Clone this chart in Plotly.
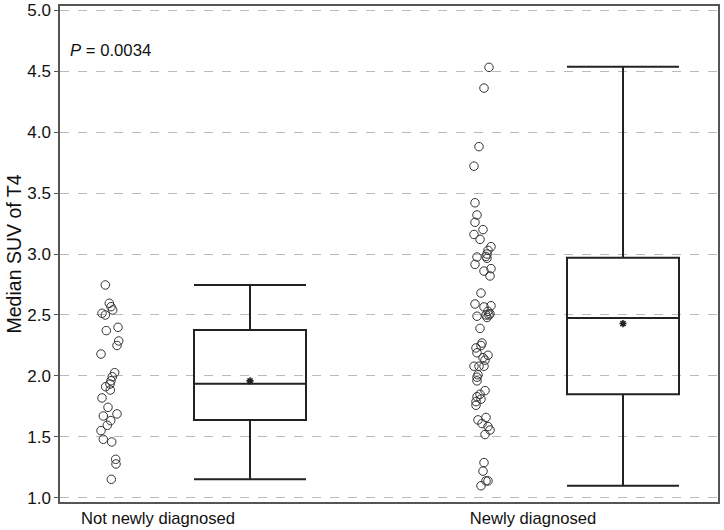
import plotly.graph_objects as go

# ---- data ----
categories = ["Not newly diagnosed", "Newly diagnosed"]

not_new_values = [2.746, 2.596, 2.568, 2.541, 2.514, 2.50, 2.399, 2.372, 2.287, 2.25,
                  2.18, 2.027, 1.994, 1.961, 1.934, 1.912, 1.885, 1.82, 1.743, 1.689,
                  1.672, 1.634, 1.596, 1.552, 1.481, 1.459, 1.317, 1.279, 1.153]
not_new_x = [0.453, 0.493, 0.51, 0.527, 0.42, 0.453, 0.58, 0.463, 0.587, 0.57,
             0.41, 0.547, 0.523, 0.51, 0.50, 0.457, 0.503, 0.42, 0.48, 0.57,
             0.433, 0.507, 0.473, 0.41, 0.433, 0.517, 0.557, 0.56, 0.513]

new_values = [4.53, 4.36, 3.88, 3.72, 3.42, 3.32, 3.26, 3.20, 3.16, 3.12,
              3.06, 3.03, 3.00, 2.98, 2.965, 2.975, 2.915, 2.88, 2.86, 2.82,
              2.68, 2.59, 2.576, 2.566, 2.53, 2.51, 2.50, 2.50, 2.49, 2.48,
              2.39, 2.27, 2.25, 2.23, 2.19, 2.17, 2.15, 2.13, 2.08, 2.08,
              2.08, 2.01, 1.99, 1.96, 1.88, 1.85, 1.83, 1.81, 1.79, 1.76,
              1.66, 1.64, 1.61, 1.585, 1.557, 1.52, 1.29, 1.22, 1.14, 1.14, 1.10]
new_x = [4.29, 4.24, 4.19, 4.14, 4.15, 4.17, 4.15, 4.23, 4.14, 4.20,
         4.31, 4.28, 4.27, 4.26, 4.27, 4.17, 4.15, 4.31, 4.24, 4.30,
         4.21, 4.15, 4.31, 4.24, 4.28, 4.30, 4.26, 4.29, 4.17, 4.27,
         4.20, 4.22, 4.21, 4.16, 4.17, 4.28, 4.23, 4.25, 4.14, 4.19,
         4.24, 4.18, 4.17, 4.17, 4.25, 4.20, 4.17, 4.21, 4.16, 4.16,
         4.26, 4.18, 4.22, 4.28, 4.30, 4.25, 4.24, 4.23, 4.28, 4.26, 4.21]

# box statistics
box_q1 = [1.64, 1.85]
box_median = [1.937, 2.475]
box_q3 = [2.377, 2.97]
box_low = [1.153, 1.10]
box_high = [2.746, 4.535]
box_mean = [1.96, 2.43]

box_pos = [1.90, 5.63]
label_pos = [0.98, 4.73]
y_ticks = [1.0, 1.5, 2.0, 2.5, 3.0, 3.5, 4.0, 4.5, 5.0]

FONT = "Liberation Sans, Arial, sans-serif"
DARK = "#222222"

fig = go.Figure()

for xs, ys in [(not_new_x, not_new_values), (new_x, new_values)]:
    fig.add_trace(go.Scatter(
        x=xs, y=ys, mode="markers",
        marker=dict(symbol="circle-open", size=8.5, color="#333333", line=dict(width=1)),
        showlegend=False, hoverinfo="y"))

for i in range(2):
    fig.add_trace(go.Box(
        x=[box_pos[i]], q1=[box_q1[i]], median=[box_median[i]], q3=[box_q3[i]],
        lowerfence=[box_low[i]], upperfence=[box_high[i]],
        width=1.12, whiskerwidth=1, boxpoints=False,
        line=dict(color=DARK, width=2), fillcolor="rgba(255,255,255,0)",
        showlegend=False, name=categories[i]))

fig.add_trace(go.Scatter(
    x=box_pos, y=box_mean, mode="markers",
    marker=dict(symbol="asterisk", size=6, color=DARK, line=dict(width=1.6, color=DARK)),
    showlegend=False))

fig.add_annotation(
    x=0.08, y=4.67, xref="x", yref="y", xanchor="left", yanchor="middle",
    text="<i>P</i> = 0.0034", showarrow=False,
    font=dict(family=FONT, size=16.7, color="#111111"))

fig.update_layout(
    width=724, height=530,
    margin=dict(l=60, r=6, t=6, b=28, autoexpand=False),
    paper_bgcolor="white", plot_bgcolor="white",
    font=dict(family=FONT, size=16, color="#111111"),
    xaxis=dict(range=[0, 6.58], tickmode="array", tickvals=label_pos, ticktext=categories,
               showgrid=False, zeroline=False, showline=True, mirror=True,
               linecolor="#555555", linewidth=1.5, ticks="", automargin=False,
               tickfont=dict(family=FONT, size=16.6, color="#111111")),
    yaxis=dict(range=[0.967, 5.033], tickmode="array", tickvals=y_ticks,
               ticktext=[f"{v:.1f}" for v in y_ticks],
               showgrid=True, gridcolor="#bbbbbb", griddash="dash", gridwidth=1,
               zeroline=False, showline=True, mirror=True, automargin=False,
               linecolor="#555555", linewidth=1.5, ticks="outside", ticklen=4,
               tickcolor="#555555",
               title=dict(text="Median SUV of T4", font=dict(family=FONT, size=19.5), standoff=0),
               tickfont=dict(family=FONT, size=17, color="#111111")),
)

fig.write_html("out.html", config={"displayModeBar": False},
               post_script="document.body.style.margin='0';")
